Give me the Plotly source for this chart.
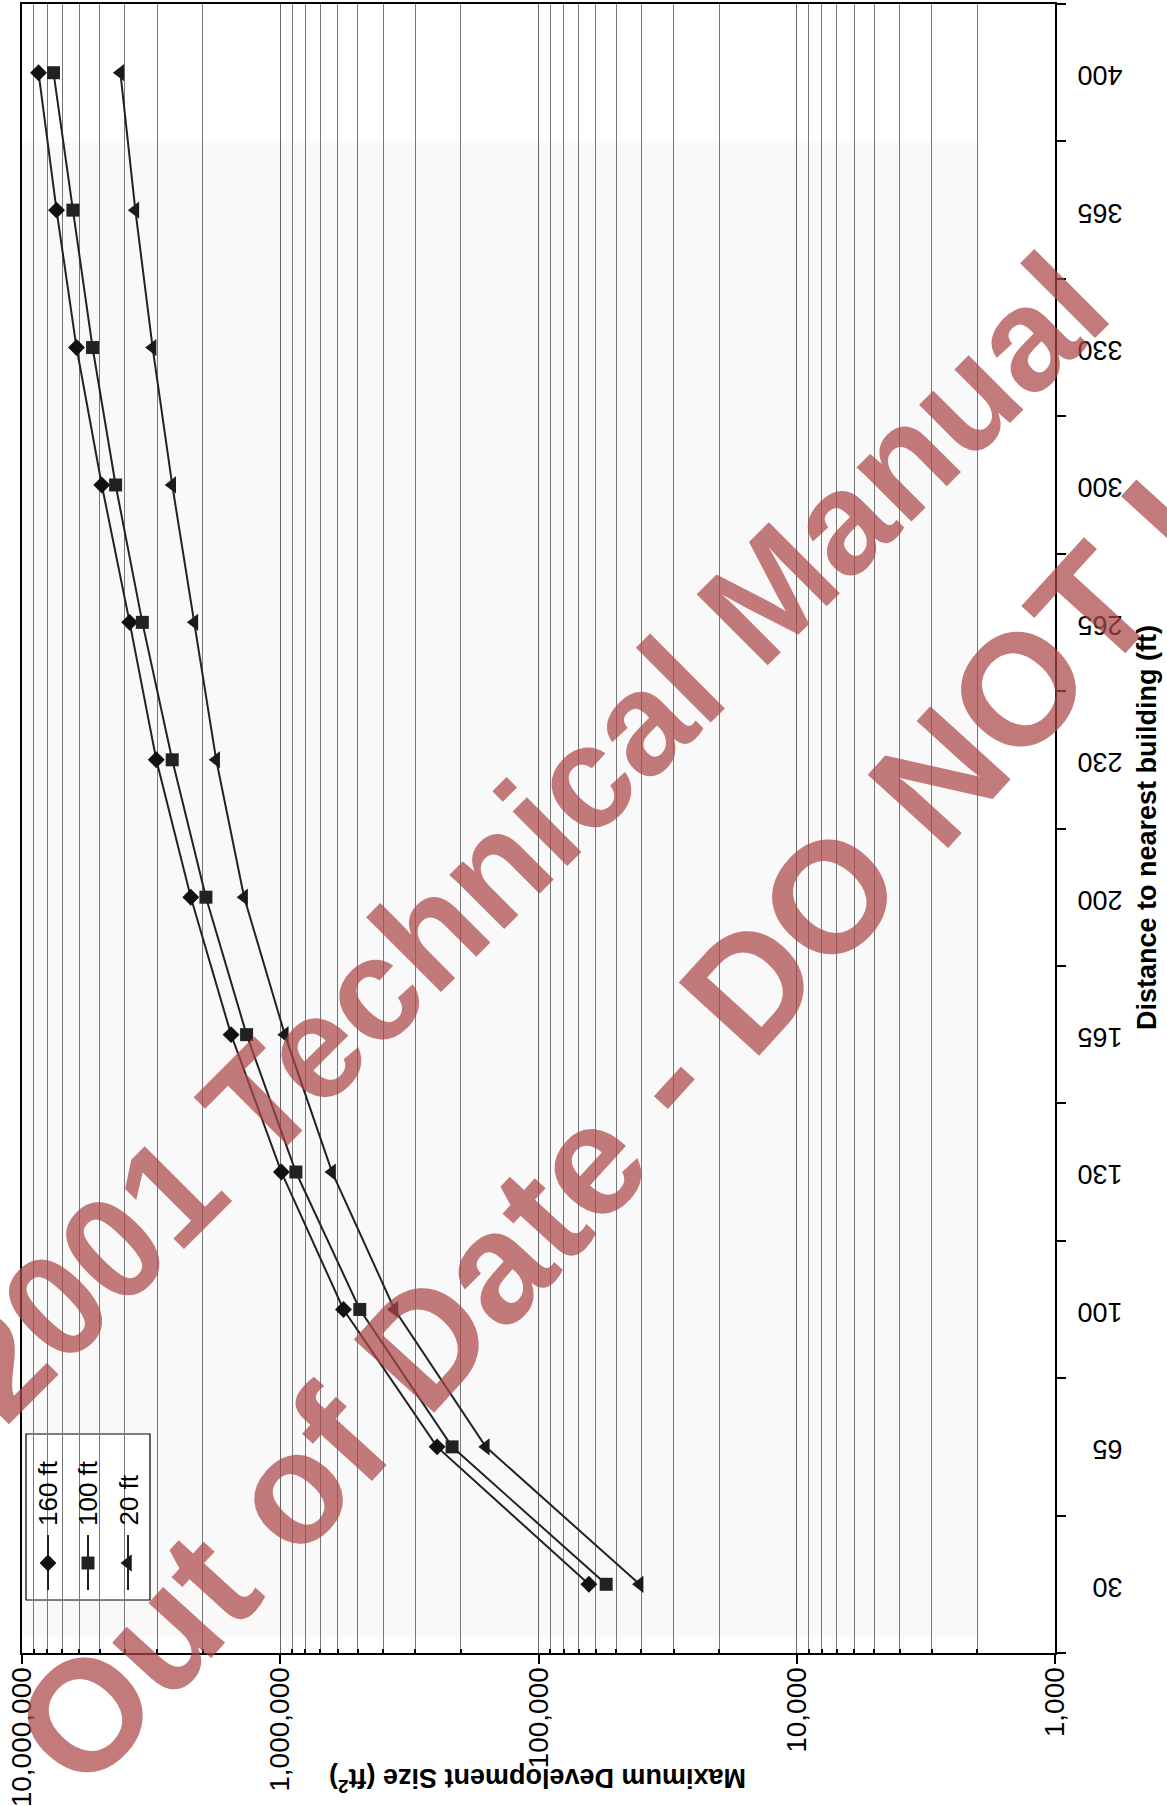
import plotly.graph_objects as go

# Distance categories (ft) and maximum development size (ft^2) for each building height
distance = ["30", "65", "100", "130", "165", "200", "230", "265", "300", "330", "365", "400"]
size_160ft = [63800, 247000, 569000, 990000, 1550000, 2220000, 3020000, 3830000, 4910000, 6150000, 7350000, 8630000]
size_100ft = [54700, 216000, 492000, 870000, 1350000, 1940000, 2620000, 3420000, 4340000, 5330000, 6350000, 7550000]
size_20ft = [40600, 160000, 361000, 630000, 960000, 1380000, 1770000, 2150000, 2620000, 3120000, 3640000, 4160000]

series_names = ["160 ft", "100 ft", "20 ft"]
size_ticks = [1e3, 1e4, 1e5, 1e6, 1e7]
size_tick_text = ["1,000", "10,000", "100,000", "1,000,000", "10,000,000"]
minor_ticks = [k * 10 ** e for e in range(3, 7) for k in range(2, 10)]

W, H = 1167, 1806
L, R, T, B = 22, 1055, 4, 1653
FONT = "Arial, Liberation Sans, sans-serif"


def px(x):
    return (x - L) / (R - L)


def py(y):
    return (B - y) / (B - T)


fig = go.Figure()

styles = [
    dict(symbol="diamond", size=13, color="#111111"),
    dict(symbol="square", size=13, color="#222222"),
    dict(symbol="triangle-left", size=15, color="#1a1a1a"),
]
for name, vals, st in zip(series_names, [size_160ft, size_100ft, size_20ft], styles):
    fig.add_trace(go.Scatter(
        x=vals, y=distance, mode="lines+markers", name=name,
        line=dict(color="#222222", width=2),
        marker=dict(symbol=st["symbol"], size=st["size"], color=st["color"]),
        showlegend=False,
    ))

# Hand-built legend (rotated entries): line + marker on an overlay axis
leg_x = [48, 88, 128]
for xc, st in zip(leg_x, styles):
    fig.add_trace(go.Scatter(
        x=[px(xc), px(xc)], y=[py(1535), py(1590)], xaxis="x2", yaxis="y2",
        mode="lines", line=dict(color="#222222", width=2), showlegend=False,
        hoverinfo="skip",
    ))
    fig.add_trace(go.Scatter(
        x=[px(xc)], y=[py(1563)], xaxis="x2", yaxis="y2", mode="markers",
        marker=dict(symbol=st["symbol"], size=st["size"], color=st["color"]),
        showlegend=False, hoverinfo="skip",
    ))

shapes = [
    # light paper tone in the body of the plot
    dict(type="rect", xref="paper", yref="paper", x0=0, x1=px(979), y0=py(1636), y1=py(143),
         fillcolor="#f9f9f9", line=dict(width=0), layer="below"),
    # legend frame
    dict(type="rect", xref="paper", yref="paper", x0=px(26), x1=px(150), y0=py(1600), y1=py(1434),
         fillcolor="white", line=dict(color="black", width=1.2), layer="between"),
]

annotations = []
for xc, name in zip(leg_x, series_names):
    annotations.append(dict(
        x=px(xc), y=py(1528), xref="paper", yref="paper", text=name, showarrow=False,
        textangle=-90, xanchor="center", yanchor="bottom",
        font=dict(family=FONT, size=26, color="black"),
    ))

annotations.append(dict(
    x=px(538), y=py(1780), xref="paper", yref="paper",
    text="<b>Maximum Development Size (ft<sup>2</sup>)</b>", showarrow=False,
    textangle=180, xanchor="center", yanchor="middle",
    font=dict(family=FONT, size=27, color="black"),
))
annotations.append(dict(
    x=px(1147), y=py(828), xref="paper", yref="paper",
    text="<b>Distance to nearest building (ft)</b>", showarrow=False,
    textangle=-90, xanchor="center", yanchor="middle",
    font=dict(family=FONT, size=27, color="black"),
))

# Watermark stamp
annotations.append(dict(
    x=px(525), y=py(836), xref="paper", yref="paper",
    text="<b>2001 Technical Manual</b>", showarrow=False, textangle=-45,
    xanchor="center", yanchor="middle",
    font=dict(family=FONT, size=146, color="rgba(172,70,70,0.72)"),
))
annotations.append(dict(
    x=px(708), y=py(1030), xref="paper", yref="paper",
    text="<b>Out of Date - DO NOT USE</b>", showarrow=False, textangle=-47.7,
    xanchor="center", yanchor="middle",
    font=dict(family=FONT, size=158, color="rgba(172,70,70,0.72)"),
))

fig.update_layout(
    width=W, height=H,
    margin=dict(l=L, r=W - R, t=T, b=H - B, pad=0),
    paper_bgcolor="white", plot_bgcolor="white",
    font=dict(family=FONT, color="black"),
    xaxis=dict(
        type="log", range=[7, 3], automargin=False,
        tickvals=size_ticks, ticktext=size_tick_text, tickangle=-90,
        tickfont=dict(size=28, color="black"),
        ticks="outside", ticklen=9, tickcolor="black", tickwidth=1.5,
        showgrid=True, gridcolor="#666666", gridwidth=1,
        minor=dict(tickvals=minor_ticks, showgrid=True, gridcolor="#777777", gridwidth=1,
                   ticks="inside", ticklen=4, tickcolor="black"),
        showline=True, linecolor="black", linewidth=2, mirror=True,
        zeroline=False, ticklabelstandoff=-8,
    ),
    yaxis=dict(
        type="category", categoryorder="array", categoryarray=distance,
        range=[-0.5, len(distance) - 0.5], side="right", automargin=False,
        tickangle=180, tickfont=dict(size=27, color="black"),
        ticks="outside", tickson="boundaries", ticklen=9, tickcolor="black", tickwidth=1.5,
        showgrid=False, showline=True, linecolor="black", linewidth=2, mirror=True,
        zeroline=False, ticklabelstandoff=60, ticklabelshift=11,
    ),
    xaxis2=dict(overlaying="x", range=[0, 1], visible=False),
    yaxis2=dict(overlaying="y", range=[0, 1], visible=False),
    shapes=shapes,
    annotations=annotations,
    showlegend=False,
)

fig.write_html("out.html")
